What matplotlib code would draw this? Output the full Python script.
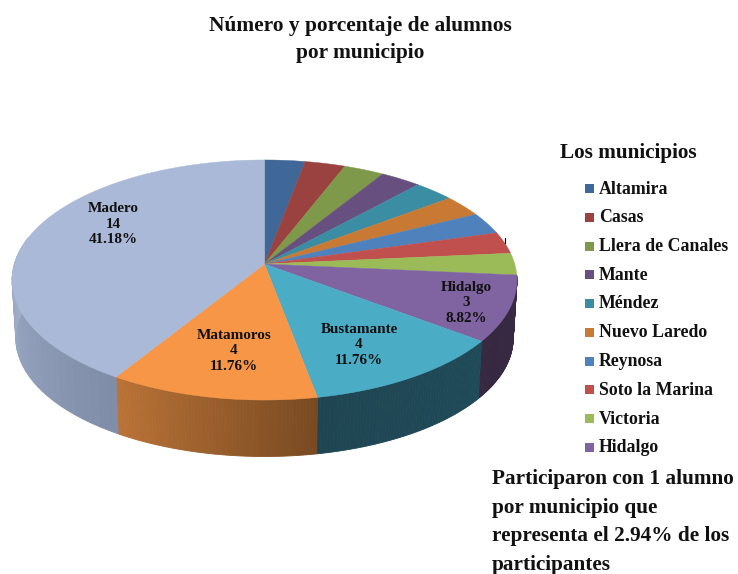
import numpy as np
import matplotlib
matplotlib.use('Agg')
import matplotlib.pyplot as plt
from matplotlib.colors import to_rgb

plt.rcParams['font.family'] = ['Liberation Serif', 'DejaVu Serif']

# data
municipios = ['Altamira', 'Casas', 'Llera de Canales', 'Mante', 'Méndez', 'Nuevo Laredo',
              'Reynosa', 'Soto la Marina', 'Victoria', 'Hidalgo', 'Bustamante',
              'Matamoros', 'Madero']
alumnos = [1, 1, 1, 1, 1, 1, 1, 1, 1, 3, 4, 4, 14]
porcentajes = ['2.94%'] * 9 + ['8.82%', '11.76%', '11.76%', '41.18%']
en_leyenda = 10  # only the first ten are in the legend

colores = ['#3F6797', '#9A4240', '#7E9949', '#67507F', '#3A8DA3', '#C87A35',
           '#4F81BD', '#C0504D', '#9BBB59', '#8064A2', '#4BACC6', '#F79646', '#AAB9D7']
# side colours: (left end, right end) of the rim
lados = {'Hidalgo': ('#352840', '#3A2A45'),
         'Bustamante': ('#1F4552', '#1F4A58'),
         'Matamoros': ('#BA7336', '#794A22'),
         'Madero': ('#A5B3CE', '#7F8DA8')}
etiquetas = {'Hidalgo': (466, 303), 'Bustamante': (359, 345),
             'Matamoros': (234, 351), 'Madero': (113, 224)}

# pie geometry [px]
cx, cy = 264.5, 264.0
A, B, k = 250.2, 117.9, 0.1333  # perspective of the tilted disc
depth = 58.5


def project(theta, z=0.0):
    # theta clockwise from the top, z is the distance below the top face
    w = 1.0 + k * np.cos(theta)
    s = 1.0 - 0.015 * z / depth
    return cx + s * A * np.sin(theta) / w, cy - s * B * np.cos(theta) / w + z


fig = plt.figure(figsize=(7.38, 5.74), dpi=100)
ax = fig.add_axes([0, 0, 1, 1])
ax.set_xlim(0, 738)
ax.set_ylim(574, 0)
ax.axis('off')

total = float(sum(alumnos))
bordes = np.concatenate([[0.0], np.cumsum(alumnos)]) / total * 2 * np.pi

# rim first, the top face covers whatever is behind
for i, nombre in enumerate(municipios):
    if nombre not in lados:
        continue
    t = np.linspace(bordes[i], bordes[i + 1], 61)
    t = t[(t > np.pi * 0.42) & (t < np.pi * 1.58)]
    right, left = [np.array(to_rgb(c)) for c in (lados[nombre][1], lados[nombre][0])]
    for j in range(len(t) - 1):
        x0, y0 = project(t[j])
        x1, y1 = project(t[j + 1])
        x2, y2 = project(t[j + 1], depth)
        x3, y3 = project(t[j], depth)
        # going clockwise along the front means right to left
        f = j / max(len(t) - 2, 1)
        c = right + (left - right) * f
        ax.fill([x0, x1, x2, x3], [y0, y1, y2, y3], color=c, lw=0.6, zorder=1)

for i, nombre in enumerate(municipios):
    t = np.linspace(bordes[i], bordes[i + 1], 120)
    x, y = project(t)
    ax.fill(np.r_[cx, x], np.r_[cy, y], color=colores[i], lw=0.3, zorder=2)

ax.plot([505, 505], [238, 243], color='black', lw=0.8, zorder=3)

for i, nombre in enumerate(municipios):
    if nombre in etiquetas:
        lx, ly = etiquetas[nombre]
        ax.text(lx, ly, '%s\n%d\n%s' % (nombre, alumnos[i], porcentajes[i]),
                ha='center', va='center', fontsize=10.9, fontweight='bold',
                linespacing=1.29, color='#111111', zorder=4)

# titles
ax.text(360, 39.5, 'Número y porcentaje de alumnos\npor municipio', ha='center', va='center',
        fontsize=15.4, fontweight='bold', linespacing=1.41, color='#111111')
ax.text(628, 153, 'Los municipios', ha='center', va='center', fontsize=15.3,
        fontweight='bold', color='#111111')

# legend
for i in range(en_leyenda):
    y = 188.5 + i * 28.75
    ax.fill([585, 594, 594, 585], [y - 4.5, y - 4.5, y + 4.5, y + 4.5], color=colores[i], lw=0)
    ax.text(599, y + 0.5, municipios[i], ha='left', va='center', fontsize=12.8,
            fontweight='bold', color='#111111')

ax.text(492, 522, 'Participaron con 1 alumno\npor municipio que\nrepresenta el 2.94% de los\nparticipantes',
        ha='left', va='center', fontsize=15.3, fontweight='bold', linespacing=1.56, color='#111111')

fig.savefig('out.png', dpi=100)
